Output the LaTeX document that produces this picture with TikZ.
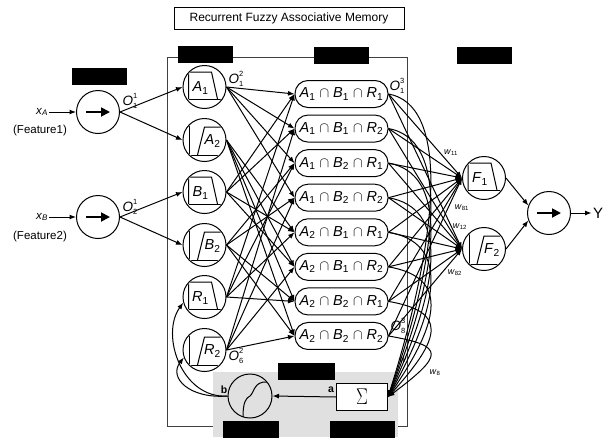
\documentclass[tikz,border=0pt]{standalone}
\usepackage{fontspec}
\setmainfont{Liberation Sans}
\usepackage{graphicx}
\usetikzlibrary{arrows.meta}
\newcommand\mfdec[3]{%
  \begin{scope}
    \clip (#1.center) circle (20.5);
    \draw ([shift={(-16,12)}]#1.center) -- ++(0,-27) -- ++(23,0) -- ++(6,27);
    \draw ([shift={(-16,12)}]#1.center) -- ++(40,0);
  \end{scope}
  \node[mflbl] at ([shift={(-4,1)}]#1.center) {\textit{#2}\textsubscript{#3}};}
\newcommand\mfinc[3]{%
  \begin{scope}
    \clip (#1.center) circle (20.5);
    \draw ([shift={(-15,-16)}]#1.center) -- ++(0,31);
    \draw ([shift={(-15,15)}]#1.center) -- ++(40,0);
    \draw ([shift={(-7,15)}]#1.center) -- ++(7,-28) -- ++(25,0);
  \end{scope}
  \node[mflbl] at ([shift={(8,1)}]#1.center) {\textit{#2}\textsubscript{#3}};}
\newcommand\Olab[2]{\textit{O}\makebox[0pt][l]{\raisebox{7pt}{\fontsize{7.5}{8}\selectfont #1}}\raisebox{-3.5pt}{\fontsize{7.5}{8}\selectfont #2}}
\newcommand\rl[3]{\textit{A}\textsubscript{#1} $\cap$ \textit{B}\textsubscript{#2} $\cap$ \textit{R}\textsubscript{#3}}
\begin{document}
\begin{tikzpicture}[x=1pt,y=-1pt,line width=1pt,
  >={Latex[length=6.5pt,width=5pt]},
  mfc/.style={circle,draw,minimum size=43pt,inner sep=0pt},
  mflbl/.style={inner sep=0pt,font=\fontsize{14.5}{16}\selectfont},
  rulebox/.style={draw,rounded corners=13pt,minimum width=93pt,minimum height=27pt,inner sep=0pt,font=\fontsize{14.5}{16}\selectfont},
  blk/.style={fill=black,minimum width=55pt,minimum height=17pt,inner sep=0pt},
  wl/.style={inner sep=0.5pt,font=\fontsize{9}{10}\selectfont},
  olbl/.style={inner sep=0pt,font=\fontsize{13.5}{14}\selectfont},
  txt/.style={inner sep=1pt,font=\fontsize{11.5}{13}\selectfont},
  bigarrow/.style={line width=1.8pt,-{Triangle[length=9pt,width=9pt]}}]
\useasboundingbox (0,0) rectangle (608,437);
% frame and shaded area
\draw[black!75,line width=0.6pt] (167,57) rectangle (407,426);
\fill[black!12] (213,372) rectangle (398,437);
% title
\node[draw,minimum width=230pt,minimum height=22pt,inner sep=0pt,font=\fontsize{12}{14}\selectfont] (title) at (289,18) {Recurrent Fuzzy Associative Memory};
% black label boxes
\node[blk] (L1) at (99,76) {};
\node[blk] (L2) at (205,54) {};
\node[blk] (L3) at (341,55) {};
\node[blk] (L4) at (484,55) {};
\node[blk,minimum width=57pt] (L5) at (306,371) {};
\node[blk,minimum width=56pt] (L6) at (251,429) {};
\node[blk,minimum width=65pt] (L7) at (362,429) {};
% inputs
\node[mfc] (inA) at (98,112) {};
\node[mfc] (inB) at (98,217) {};
\draw[bigarrow] ([xshift=-12pt]inA.center) -- ([xshift=12pt]inA.center);
\draw[bigarrow] ([xshift=-12pt]inB.center) -- ([xshift=12pt]inB.center);
\node[txt] (xa) at (42,112) {\textit{x}\textsubscript{\textit{A}}};
\node[txt] (xb) at (42,217) {\textit{x}\textsubscript{\textit{B}}};
\node[txt] (f1) at (40,131) {(Feature1)};
\node[txt] (f2) at (40,237) {(Feature2)};
\draw[->] (xa.east) -- (inA.west);
\draw[->] (xb.east) -- (inB.west);
% layer 2
\node[mfc] (A1) at (204.5,87) {};
\node[mfc] (A2) at (204.5,140) {};
\node[mfc] (B1) at (204.5,192) {};
\node[mfc] (B2) at (204.5,245) {};
\node[mfc] (R1) at (204.5,297) {};
\node[mfc] (R2) at (204.5,350) {};
\mfdec{A1}{A}{1}
\mfinc{A2}{A}{2}
\mfdec{B1}{B}{1}
\mfinc{B2}{B}{2}
\mfdec{R1}{R}{1}
\mfinc{R2}{R}{2}
\draw[->] (inA.east) -- (A1.west);
\draw[->] (inA.east) -- (A2.west);
\draw[->] (inB.east) -- (B1.west);
\draw[->] (inB.east) -- (B2.west);
% layer 3
\foreach \a/\b/\r [count=\i] in {1/1/1,1/1/2,1/2/1,1/2/2,2/1/1,2/1/2,2/2/1,2/2/2}{
  \pgfmathsetmacro\yy{94+34.57*(\i-1)}
  \node[rulebox] (r\i) at (341.5,\yy) {\rl{\a}{\b}{\r}};
}
\foreach \a/\b/\r [count=\i] in {1/1/1,1/1/2,1/2/1,1/2/2,2/1/1,2/1/2,2/2/1,2/2/2}{
  \draw[->] (A\a.east) -- (r\i.west);
  \draw[->] (B\b.east) -- (r\i.west);
  \draw[->] (R\r.east) -- (r\i.west);
}
% layer 4
\node[mfc] (F1) at (484,178) {};
\node[mfc] (F2) at (484,249) {};
\mfdec{F1}{F}{1}
\mfinc{F2}{F}{2}
% sum and sigmoid
\node[draw,fill=white,minimum width=51pt,minimum height=27pt,inner sep=0pt] (sum) at (362,397) {\scalebox{0.85}[1.1]{\fontsize{21}{21}\selectfont$\Sigma$}};
\node[mfc,fill=black!12,minimum size=44pt] (sig) at (250,396) {};
\draw ([shift={(-7,21)}]sig.center) .. controls ([shift={(-7,6)}]sig.center) and ([shift={(-4,2)}]sig.center) .. (sig.center) .. controls ([shift={(4,-3)}]sig.center) and ([shift={(4,-15)}]sig.center) .. ([shift={(17,-14)}]sig.center);
\foreach \i in {1,...,8}{
  \draw[->] (r\i.east) -- (F1.west);
  \draw[->] (r\i.east) -- (F2.west);
  \draw[->] (r\i.east) .. controls +(58,10) and +(55,{-0.55*(303-34.57*(\i-1))-8}) .. (sum.east);
}
\draw[->] (sum.west) -- (sig.east);
\node[inner sep=0pt,font=\fontsize{10.5}{11}\selectfont\bfseries] (la) at (331,390) {a};
\node[inner sep=0pt,font=\fontsize{10.5}{11}\selectfont\bfseries] (lb) at (224,390) {b};
\draw[->] (sig.west) .. controls (182,399) and (160,335) .. (R1.195);
\draw[->] (sig.west) .. controls (190,399) and (168,378) .. (R2.200);
% output
\node[mfc] (out) at (549,213) {};
\draw[bigarrow] ([xshift=-12pt]out.center) -- ([xshift=12pt]out.center);
\draw[->] (F1.east) -- (out.160);
\draw[->] (F2.east) -- (out.200);
\node[inner sep=1pt,font=\fontsize{15}{16}\selectfont] (Y) at (598,213) {Y};
\draw[->] (out.east) -- (Y.west);
% O labels
\node[olbl] (o11) at (130,101) {\Olab{1}{1}};
\node[olbl] (o21) at (130,207) {\Olab{1}{2}};
\node[olbl] (o12) at (236,79) {\Olab{2}{1}};
\node[olbl] (o62) at (236,356) {\Olab{2}{6}};
\node[olbl] (o13) at (397,86) {\Olab{3}{1}};
\node[olbl] (o83) at (398,326) {\Olab{3}{8}};
% weight labels
\node[wl] (w11) at (451,153) {\textit{w}\textsubscript{11}};
\node[wl] (w81) at (462,208) {\textit{w}\textsubscript{81}};
\node[wl] (w12) at (460,227) {\textit{w}\textsubscript{12}};
\node[wl] (w82) at (455,273) {\textit{w}\textsubscript{82}};
\node[wl] (w1) at (403,360) {\textit{w}};
\node[wl] (w8) at (435,373) {\textit{w}\textsubscript{8}};
\end{tikzpicture}
\end{document}
